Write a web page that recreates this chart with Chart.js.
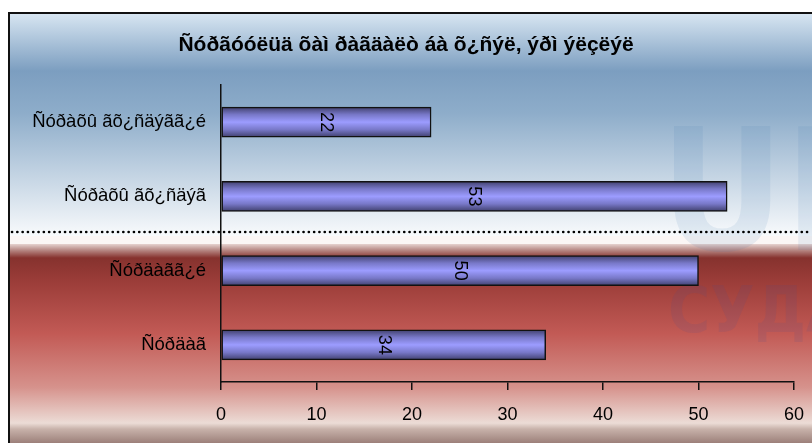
<!DOCTYPE html>
<html>
<head>
<meta charset="utf-8">
<script src="https://cdn.jsdelivr.net/npm/chart.js@4"></script>
<style>
  html, body { margin: 0; padding: 0; background: #fff; }
  #wrap { width: 812px; height: 443px; }
</style>
</head>
<body>
<div id="wrap"><canvas id="myChart" width="812" height="443"></canvas></div>
<script>
var titleText = "Ñóðãóóëüä õàì ðàãäàëò áà õ¿ñýë, ýðì ýëçëýë";
var categories = ["Ñóðàõû ãõ¿ñäýãã¿é", "Ñóðàõû ãõ¿ñäýã", "Ñóðäàãã¿é", "Ñóðäàã"];
var values = [22, 53, 50, 34];
var xTicks = [0, 10, 20, 30, 40, 50, 60];

// background panels, frame, title, dotted divider
var backdrop = {
  id: "backdrop",
  beforeDraw: function (chart) {
    var c = chart.ctx;
    var w = chart.width, h = chart.height;
    c.save();
    c.fillStyle = "#ffffff";
    c.fillRect(0, 0, w, h);

    var top = c.createLinearGradient(0, 13, 0, 236);
    top.addColorStop(0, "#d8e6f2");
    top.addColorStop(0.26, "#7c9ec0");
    top.addColorStop(0.45, "#8eadca");
    top.addColorStop(1, "#f8fafc");
    c.fillStyle = top;
    c.fillRect(9, 13, w - 9, 223);

    c.fillStyle = "#fbf6f5";
    c.fillRect(9, 236, w - 9, 8);

    var red = c.createLinearGradient(0, 244, 0, 443);
    red.addColorStop(0, "#e6d2cf");
    red.addColorStop(0.03, "#b88a86");
    red.addColorStop(0.07, "#86322e");
    red.addColorStop(0.18, "#9a3c38");
    red.addColorStop(0.45, "#c25a55");
    red.addColorStop(0.72, "#d6928c");
    red.addColorStop(0.9, "#ecdcd6");
    red.addColorStop(0.93, "#c8b2aa");
    red.addColorStop(1, "#9c807a");
    c.fillStyle = red;
    c.fillRect(9, 244, w - 9, h - 244);

    // faint watermark
    c.globalAlpha = 0.1;
    c.fillStyle = "#3f78b0";
    c.font = "bold 170px 'DejaVu Sans Condensed'";
    c.textBaseline = "alphabetic";
    c.fillText("UII", 660, 250);
    c.fillStyle = "#4a4f8a";
    c.globalAlpha = 0.13;
    c.font = "bold 64px 'DejaVu Sans Condensed'";
    c.fillText("СУДАЛ", 668, 332);
    c.globalAlpha = 1;

    // frame
    c.strokeStyle = "#111";
    c.lineWidth = 2;
    c.beginPath();
    c.moveTo(9, h);
    c.lineTo(9, 13);
    c.lineTo(w, 13);
    c.stroke();

    // dotted divider
    c.strokeStyle = "#000";
    c.lineWidth = 2.6;
    c.lineCap = "round";
    c.setLineDash([0.1, 5.2]);
    c.beginPath();
    c.moveTo(12, 232);
    c.lineTo(w, 232);
    c.stroke();
    c.setLineDash([]);

    // title
    c.fillStyle = "#000";
    c.font = "bold 21px 'Liberation Sans', Arial";
    c.textAlign = "center";
    c.textBaseline = "middle";
    c.fillText(titleText, 406, 45);
    c.restore();
  },
  afterDatasetsDraw: function (chart) {
    var c = chart.ctx;
    var meta = chart.getDatasetMeta(0);
    c.save();
    c.fillStyle = "#000";
    c.font = "18px 'Liberation Sans', Arial";
    c.textAlign = "center";
    c.textBaseline = "middle";
    meta.data.forEach(function (bar, i) {
      var cx = (bar.x + bar.base) / 2;
      c.save();
      c.translate(cx, bar.y);
      c.rotate(Math.PI / 2);
      c.fillText(String(values[i]), 0, 0);
      c.restore();
    });
    c.restore();
  }
};

function barFill(context) {
  var chart = context.chart;
  var ys = chart.scales.y;
  if (!ys || !chart.chartArea) return "#9999ff";
  var y = ys.getPixelForValue(context.dataIndex);
  var g = chart.ctx.createLinearGradient(0, y - 15, 0, y + 15);
  g.addColorStop(0, "#40406e");
  g.addColorStop(0.25, "#7878c8");
  g.addColorStop(0.5, "#9c9cff");
  g.addColorStop(0.75, "#7878c8");
  g.addColorStop(1, "#40406e");
  return g;
}

var ctx = document.getElementById("myChart").getContext("2d");
var myChart = new Chart(ctx, {
  type: "bar",
  data: {
    labels: categories,
    datasets: [
      {
        data: values,
        backgroundColor: barFill,
        borderColor: "#111111",
        borderWidth: 1.5,
        borderSkipped: false,
        barThickness: 30,
      },
    ],
  },
  options: {
    indexAxis: "y",
    responsive: false,
    animation: false,
    layout: {
      padding: { top: 85, right: 18, left: 0, bottom: 0 },
    },
    plugins: {
      legend: { display: false },
      tooltip: { enabled: false },
      title: { display: false },
    },
    scales: {
      x: {
        min: 0,
        max: 60,
        afterBuildTicks: function (scale) {
          scale.ticks = xTicks.map(function (v) { return { value: v }; });
        },
        afterFit: function (scale) {
          scale.height = 61;
          scale.paddingLeft = 0;
          scale.paddingRight = 0;
        },
        grid: {
          display: true,
          drawOnChartArea: false,
          drawTicks: true,
          tickLength: 8,
          color: "#111111",
          lineWidth: 1.5,
        },
        border: { display: true, color: "#111111", width: 1.5 },
        ticks: {
          color: "#000",
          padding: 14,
          maxRotation: 0,
          font: { family: "'Liberation Sans', Arial", size: 18 },
        },
      },
      y: {
        afterFit: function (scale) { scale.width = 221; },
        grid: { display: false, drawTicks: false },
        border: { display: true, color: "#111111", width: 1.5 },
        ticks: {
          color: "#000",
          padding: 15,
          font: { family: "'Liberation Sans', Arial", size: 18.5 },
        },
      },
    },
  },
  plugins: [backdrop],
});
</script>
</body>
</html>
